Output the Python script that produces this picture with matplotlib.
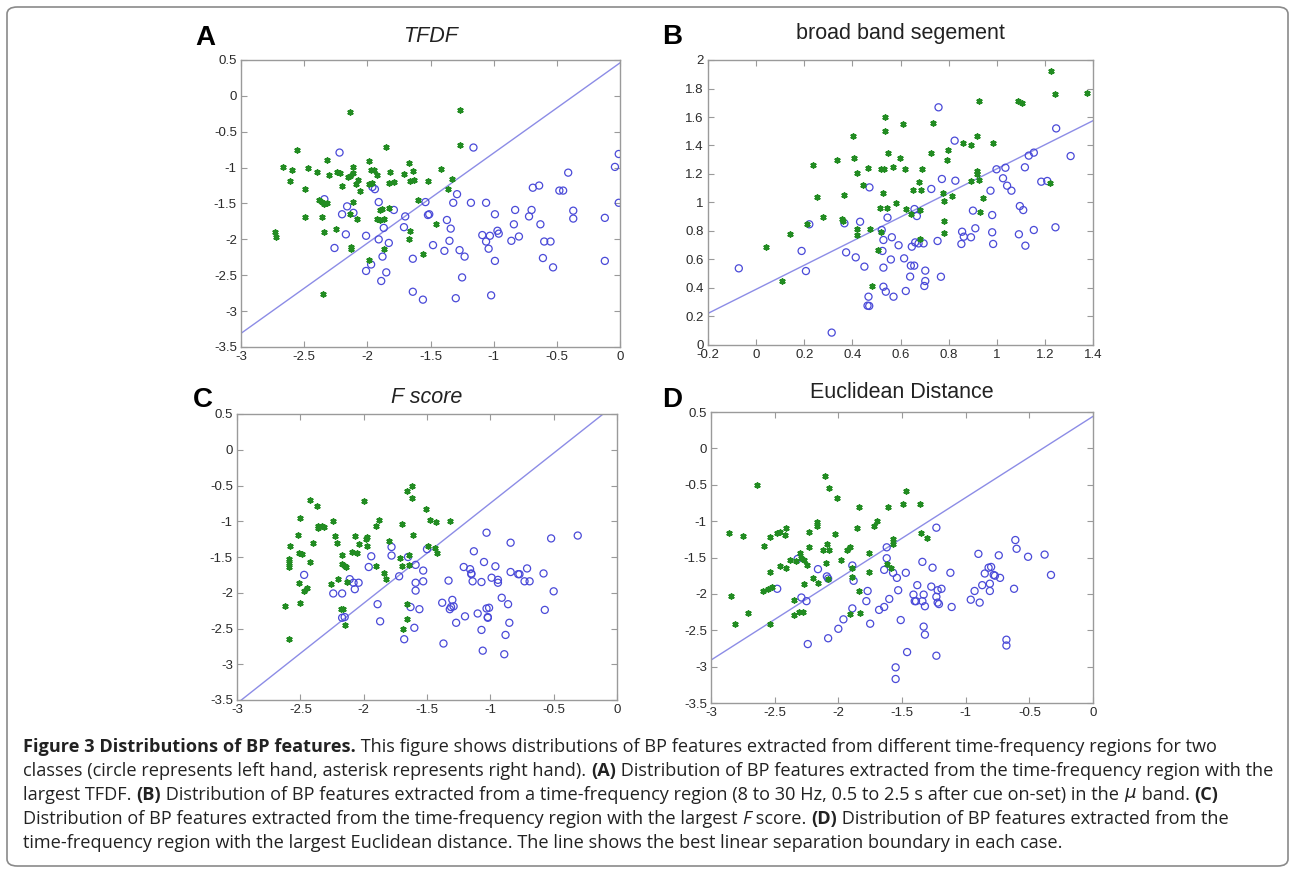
import matplotlib
matplotlib.use("Agg")
import matplotlib.pyplot as plt
from matplotlib.patches import FancyBboxPatch

W, H = 1292, 873

# ---------------- data ----------------
# Panel A (TFDF)
a_right_x = [-2.14, -1.27, -2.56, -1.27, -1.85, -2.67, -2.60, -2.47, -2.40, -2.32, -2.30, -2.24, -2.22, -2.11,
             -2.15, -2.14, -2.11, -2.07, -2.09, -2.06, -2.20, -2.61, -2.49, -1.99, -1.97, -1.95, -1.92, -1.96,
             -1.99, -1.82, -1.83, -1.79, -1.71, -1.67, -1.64, -1.66, -1.63, -1.42, -1.52, -1.33, -1.36, -2.38,
             -2.36, -2.34, -2.32, -2.11, -2.14, -2.08, -2.49, -2.36, -1.90, -1.88, -1.83, -1.92, -1.90, -1.87,
             -2.34, -2.25, -2.73, -2.72, -2.13, -2.13, -1.87, -1.60, -1.66, -1.67, -1.46, -1.56, -1.99, -2.35]
a_right_y = [-0.23, -0.19, -0.76, -0.69, -0.71, -0.99, -1.03, -1.01, -1.06, -0.90, -1.10, -1.06, -1.08, -0.99,
             -1.13, -1.11, -1.08, -1.17, -1.23, -1.33, -1.25, -1.18, -1.30, -0.91, -1.04, -1.03, -1.10, -1.22,
             -1.23, -1.06, -1.21, -1.20, -1.09, -0.93, -1.05, -1.19, -1.17, -1.02, -1.18, -1.16, -1.30, -1.45,
             -1.48, -1.51, -1.49, -1.48, -1.64, -1.71, -1.69, -1.69, -1.59, -1.58, -1.56, -1.72, -1.73, -1.71,
             -1.90, -1.86, -1.90, -1.97, -2.10, -2.13, -2.14, -1.45, -1.88, -1.99, -1.78, -2.21, -2.29, -2.76]
a_left_x = [-2.22, -1.16, -1.94, -1.96, -2.34, -1.91, -2.16, -2.20, -2.11, -1.79, -2.17, -2.01, -1.87, -1.91,
            -1.83, -2.26, -1.88, -2.01, -1.97, -1.85, -1.89, -1.70, -1.71, -1.54, -1.52, -1.51, -1.64, -1.64,
            -1.56, -1.48, -1.29, -1.32, -1.37, -1.34, -1.35, -1.39, -1.27, -1.23, -1.25, -1.30, -1.18, -1.06,
            -0.99, -1.09, -1.06, -1.03, -1.04, -0.97, -0.96, -0.99, -1.02, -0.84, -0.83, -0.80, -0.86, -0.72,
            -0.70, -0.69, -0.64, -0.63, -0.60, -0.55, -0.61, -0.53, -0.48, -0.45, -0.41, -0.37, -0.37, -0.12,
            -0.12, -0.04, -0.01, -0.01]
a_left_y = [-0.79, -0.72, -1.30, -1.27, -1.44, -1.48, -1.54, -1.65, -1.63, -1.59, -1.93, -1.95, -1.84, -2.00,
            -2.05, -2.12, -2.24, -2.44, -2.35, -2.46, -2.58, -1.68, -1.83, -1.48, -1.66, -1.65, -2.27, -2.73,
            -2.84, -2.08, -1.37, -1.49, -1.73, -1.85, -2.02, -2.16, -2.15, -2.24, -2.53, -2.82, -1.49, -1.49,
            -1.65, -1.94, -2.03, -1.95, -2.13, -1.88, -1.92, -2.30, -2.78, -1.79, -1.59, -1.96, -2.02, -1.68,
            -1.59, -1.28, -1.25, -1.79, -2.03, -2.03, -2.26, -2.39, -1.32, -1.32, -1.07, -1.60, -1.71, -1.70,
            -2.30, -0.99, -0.81, -1.49]
a_line_x = [-3.0, 0.0]
a_line_y = [-3.31, 0.46]

# Panel B (broad band segement)
b_right_x = [1.226, 1.24, 1.374, 0.925, 1.09, 1.105, 0.536, 0.612, 0.737, 0.404, 0.536, 0.918, 0.983, 0.858,
             0.893, 0.797, 0.546, 0.407, 0.596, 0.728, 0.793, 0.335, 0.235, 0.467, 0.518, 0.532, 0.568, 0.62,
             0.689, 0.421, 0.918, 0.918, 0.928, 0.893, 0.446, 0.675, 0.65, 0.686, 0.776, 0.779, 0.814, 0.251,
             0.365, 0.526, 0.582, 0.513, 0.543, 0.624, 0.679, 0.644, 0.943, 1.221, 0.929, 0.276, 0.356, 0.36,
             0.21, 0.418, 0.421, 0.474, 0.518, 0.779, 0.782, 0.682, 0.14, 0.043, 0.508, 0.481, 0.108]
b_right_y = [1.925, 1.76, 1.766, 1.71, 1.71, 1.70, 1.60, 1.55, 1.56, 1.47, 1.50, 1.47, 1.42, 1.415,
             1.40, 1.37, 1.35, 1.31, 1.31, 1.345, 1.30, 1.30, 1.26, 1.245, 1.235, 1.235, 1.25, 1.235,
             1.235, 1.205, 1.22, 1.20, 1.16, 1.15, 1.12, 1.146, 1.09, 1.088, 1.07, 1.01, 1.048, 1.036,
             1.05, 1.064, 0.999, 0.963, 0.963, 0.952, 0.947, 0.919, 1.034, 1.14, 0.931, 0.896, 0.884, 0.870,
             0.847, 0.814, 0.772, 0.814, 0.791, 0.87, 0.784, 0.744, 0.779, 0.685, 0.667, 0.416, 0.449]
b_left_x = [-0.072, 0.189, 0.207, 0.221, 0.314, 0.367, 0.374, 0.414, 0.432, 0.45, 0.467, 0.463, 0.47, 0.471,
            0.522, 0.529, 0.525, 0.529, 0.529, 0.539, 0.546, 0.564, 0.56, 0.571, 0.592, 0.615, 0.622, 0.64,
            0.643, 0.657, 0.647, 0.661, 0.668, 0.658, 0.675, 0.696, 0.703, 0.703, 0.699, 0.728, 0.754, 0.758,
            0.768, 0.772, 0.825, 0.828, 0.856, 0.863, 0.853, 0.893, 0.901, 0.911, 0.974, 0.981, 0.981, 0.985,
            0.999, 1.026, 1.036, 1.043, 1.061, 1.096, 1.11, 1.092, 1.119, 1.117, 1.133, 1.154, 1.154, 1.185,
            1.21, 1.247, 1.244, 1.307]
b_left_y = [0.538, 0.66, 0.519, 0.847, 0.087, 0.854, 0.65, 0.615, 0.865, 0.55, 0.339, 0.276, 0.274, 1.106,
            0.807, 0.737, 0.66, 0.543, 0.409, 0.374, 0.894, 0.756, 0.60, 0.339, 0.70, 0.608, 0.379, 0.48,
            0.557, 0.557, 0.69, 0.72, 0.905, 0.954, 0.713, 0.713, 0.522, 0.449, 0.414, 1.095, 0.73, 1.668,
            0.479, 1.165, 1.434, 1.153, 0.795, 0.76, 0.709, 0.756, 0.943, 0.819, 1.083, 0.912, 0.791, 0.709,
            1.233, 1.17, 1.244, 1.118, 1.083, 0.975, 0.947, 0.777, 0.697, 1.247, 1.329, 1.35, 0.807, 1.146,
            1.151, 1.52, 0.826, 1.326]
b_line_x = [-0.2, 1.4]
b_line_y = [0.222, 1.574]

# Panel C (F score)
c_right_x = [-2.42, -2.37, -2.00, -1.62, -1.66, -1.62, -1.51, -2.50, -2.36, -2.36, -2.33, -2.31, -2.24, -1.88,
             -1.90, -1.70, -1.48, -1.43, -1.32, -2.52, -2.40, -2.23, -2.21, -2.07, -2.04, -1.97, -1.98, -1.97,
             -1.80, -1.61, -1.49, -1.44, -1.42, -2.58, -2.59, -2.59, -2.59, -2.51, -2.49, -2.42, -2.17, -2.09,
             -2.05, -2.17, -2.15, -2.14, -1.90, -1.71, -1.70, -1.64, -1.64, -1.84, -1.82, -2.20, -2.13, -2.26,
             -2.51, -2.45, -2.47, -2.62, -2.50, -2.18, -2.16, -2.15, -1.66, -1.66, -1.69, -2.59]
c_right_y = [-0.70, -0.79, -0.71, -0.50, -0.57, -0.68, -0.83, -0.96, -1.06, -1.10, -1.07, -1.08, -0.99, -0.98,
             -1.07, -1.04, -0.98, -1.01, -0.99, -1.19, -1.31, -1.20, -1.30, -1.21, -1.32, -1.22, -1.25, -1.34,
             -1.28, -1.19, -1.34, -1.38, -1.44, -1.35, -1.53, -1.59, -1.64, -1.44, -1.46, -1.57, -1.47, -1.43,
             -1.45, -1.60, -1.62, -1.64, -1.62, -1.52, -1.62, -1.47, -1.61, -1.72, -1.81, -1.81, -1.85, -1.88,
             -1.86, -1.94, -1.98, -2.18, -2.15, -2.23, -2.23, -2.45, -2.16, -2.37, -2.51, -2.64]
c_left_x = [-2.47, -2.24, -2.17, -2.17, -2.15, -2.11, -2.08, -2.07, -2.04, -1.94, -1.96, -1.89, -1.87, -1.78,
            -1.78, -1.72, -1.65, -1.59, -1.59, -1.59, -1.53, -1.53, -1.50, -1.63, -1.56, -1.60, -1.68, -1.37,
            -1.38, -1.33, -1.32, -1.31, -1.30, -1.29, -1.27, -1.20, -1.21, -1.16, -1.15, -1.15, -1.14, -1.13,
            -1.10, -1.07, -1.07, -1.06, -1.05, -1.03, -1.03, -1.02, -1.02, -1.01, -0.99, -0.96, -0.94, -0.94,
            -0.91, -0.88, -0.89, -0.86, -0.85, -0.84, -0.84, -0.78, -0.77, -0.73, -0.71, -0.69, -0.58, -0.57,
            -0.52, -0.50, -0.31]
c_left_y = [-1.75, -2.01, -2.01, -2.35, -2.34, -1.81, -1.86, -1.95, -1.86, -1.49, -1.64, -2.16, -2.40, -1.36,
            -1.48, -1.77, -1.50, -1.61, -1.86, -1.97, -1.69, -1.84, -1.39, -2.20, -2.23, -2.49, -2.65, -2.71,
            -2.14, -1.83, -2.23, -2.20, -2.10, -2.19, -2.42, -2.33, -1.64, -1.67, -1.73, -1.74, -1.84, -1.42,
            -2.29, -1.85, -2.52, -2.81, -1.57, -1.16, -2.22, -2.34, -2.35, -2.21, -1.79, -1.63, -1.82, -1.86,
            -2.07, -2.59, -2.86, -2.16, -2.42, -1.71, -1.30, -1.74, -1.74, -1.84, -1.66, -1.84, -1.73, -2.24,
            -1.24, -1.98, -1.20]
c_line_x = [-3.0, 0.0]
c_line_y = [-3.548, 0.653]

# Panel D (Euclidean Distance)
d_right_x = [-2.104, -2.07, -2.01, -2.64, -1.47, -1.49, -1.61, -1.36, -1.84, -1.70, -1.72, -2.17, -2.17, -1.85,
             -2.86, -2.75, -2.54, -2.48, -2.46, -2.41, -2.42, -2.23, -2.03, -2.58, -2.23, -2.09, -2.12, -2.07,
             -1.93, -1.91, -1.57, -1.57, -1.35, -1.30, -2.30, -2.29, -2.33, -2.38, -2.27, -2.25, -2.10, -1.98,
             -1.76, -2.46, -2.41, -2.54, -1.89, -1.62, -1.59, -1.76, -2.20, -2.08, -1.89, -2.52, -2.55, -2.59,
             -2.27, -2.16, -1.84, -2.84, -2.35, -2.71, -2.31, -2.28, -2.35, -1.83, -1.91, -2.81, -2.54]
d_right_y = [-0.38, -0.54, -0.68, -0.51, -0.59, -0.77, -0.80, -0.77, -0.81, -1.00, -1.07, -1.01, -1.07, -1.10,
             -1.16, -1.21, -1.22, -1.16, -1.15, -1.10, -1.19, -1.15, -1.18, -1.34, -1.36, -1.32, -1.40, -1.40,
             -1.40, -1.36, -1.25, -1.31, -1.16, -1.23, -1.44, -1.50, -1.55, -1.54, -1.54, -1.60, -1.58, -1.54,
             -1.44, -1.61, -1.64, -1.70, -1.64, -1.59, -1.65, -1.70, -1.78, -1.80, -1.77, -1.90, -1.93, -1.96,
             -1.87, -1.85, -1.96, -2.03, -2.08, -2.26, -2.25, -2.25, -2.29, -2.26, -2.28, -2.42, -2.42]
d_left_x = [-2.32, -2.48, -2.29, -2.25, -2.24, -2.16, -2.09, -2.08, -2.08, -2.00, -1.96, -1.89, -1.88, -1.89,
            -1.77, -1.78, -1.75, -1.68, -1.64, -1.62, -1.62, -1.64, -1.60, -1.57, -1.54, -1.53, -1.51, -1.55,
            -1.55, -1.47, -1.46, -1.41, -1.40, -1.39, -1.38, -1.34, -1.34, -1.33, -1.32, -1.33, -1.32, -1.27,
            -1.26, -1.23, -1.23, -1.22, -1.22, -1.21, -1.19, -1.23, -1.12, -1.11, -0.96, -0.93, -0.90, -0.89,
            -0.87, -0.85, -0.82, -0.80, -0.81, -0.81, -0.78, -0.77, -0.73, -0.74, -0.68, -0.68, -0.62, -0.61,
            -0.60, -0.51, -0.38, -0.33]
d_left_y = [-1.52, -1.93, -2.05, -2.10, -2.69, -1.66, -1.76, -1.79, -2.61, -2.48, -2.35, -1.61, -1.82, -2.20,
            -1.96, -2.10, -2.41, -2.22, -2.18, -1.36, -1.51, -1.67, -2.07, -1.71, -1.78, -1.95, -2.36, -3.01,
            -3.17, -1.71, -2.80, -2.01, -2.10, -2.10, -1.88, -1.56, -2.10, -2.45, -2.56, -2.01, -2.17, -1.90,
            -1.64, -1.09, -2.04, -1.95, -2.12, -2.14, -1.93, -2.85, -1.71, -2.18, -2.08, -1.96, -1.45, -2.12,
            -1.88, -1.72, -1.64, -1.63, -1.86, -1.96, -1.74, -1.75, -1.78, -1.47, -2.63, -2.71, -1.93, -1.26,
            -1.38, -1.49, -1.46, -1.74]
d_line_x = [-3.0, 0.0]
d_line_y = [-2.91, 0.44]

panel_letters = ["A", "B", "C", "D"]
panel_titles = ["TFDF", "broad band segement", "F score", "Euclidean Distance"]
title_italic = [True, False, True, False]
xlims = [(-3, 0), (-0.2, 1.4), (-3, 0), (-3, 0)]
ylims = [(-3.5, 0.5), (0, 2), (-3.5, 0.5), (-3.5, 0.5)]
xticks = [[-3, -2.5, -2, -1.5, -1, -0.5, 0],
          [-0.2, 0, 0.2, 0.4, 0.6, 0.8, 1, 1.2, 1.4],
          [-3, -2.5, -2, -1.5, -1, -0.5, 0],
          [-3, -2.5, -2, -1.5, -1, -0.5, 0]]
yticks = [[-3.5, -3, -2.5, -2, -1.5, -1, -0.5, 0, 0.5],
          [0, 0.2, 0.4, 0.6, 0.8, 1, 1.2, 1.4, 1.6, 1.8, 2],
          [-3.5, -3, -2.5, -2, -1.5, -1, -0.5, 0, 0.5],
          [-3.5, -3, -2.5, -2, -1.5, -1, -0.5, 0, 0.5]]

panels = [
    (a_right_x, a_right_y, a_left_x, a_left_y, a_line_x, a_line_y),
    (b_right_x, b_right_y, b_left_x, b_left_y, b_line_x, b_line_y),
    (c_right_x, c_right_y, c_left_x, c_left_y, c_line_x, c_line_y),
    (d_right_x, d_right_y, d_left_x, d_left_y, d_line_x, d_line_y),
]

# ---------------- layout (pixels) ----------------
axes_px = [(241, 60, 620, 347), (708, 60, 1093, 345), (237, 414, 617, 700), (711, 412, 1093, 703)]
letter_px = [(195, 38), (662, 37), (193, 400), (662, 400)]
title_py = [37, 34, 398, 393]

GREEN = "#228c22"
BLUE = "#4a4ad8"
LINE = "#8c8ce6"
SPINE = "#9a9a9a"
TICKTXT = "#2a2a2a"
PFONT = ["Liberation Sans", "DejaVu Sans"]

fig = plt.figure(figsize=(W / 100, H / 100), dpi=100)
fig.patch.set_facecolor("white")

def fx(px):
    return px / W

def fy(py):
    return 1 - py / H

for i, (rx, ry, lx, ly, lnx, lny) in enumerate(panels):
    l, t, r, b = axes_px[i]
    ax = fig.add_axes([fx(l), fy(b), (r - l) / W, (b - t) / H])
    ax.plot(lnx, lny, color=LINE, lw=1.0, zorder=1)
    ax.scatter(lx, ly, s=26, facecolors="none", edgecolors=BLUE, linewidths=0.9, zorder=2)
    ax.scatter(rx, ry, s=12, marker=(6, 2, 0), color=GREEN, linewidths=1.3, zorder=3)
    ax.set_xlim(*xlims[i])
    ax.set_ylim(*ylims[i])
    ax.set_xticks(xticks[i])
    ax.set_yticks(yticks[i])
    ax.set_xticklabels([("%g" % v) for v in xticks[i]])
    ax.set_yticklabels([("%g" % v) for v in yticks[i]])
    ax.tick_params(direction="in", length=4, width=0.8, color=SPINE, top=True, right=True,
                   labelsize=9.5, labelcolor=TICKTXT, pad=3)
    for lab in ax.get_xticklabels() + ax.get_yticklabels():
        lab.set_family(PFONT)
    for sp in ax.spines.values():
        sp.set_color(SPINE)
        sp.set_linewidth(1.0)
    cx = (l + r) / 2
    fig.text(fx(cx), fy(title_py[i]), panel_titles[i], ha="center", va="center",
             fontsize=15.5, family=PFONT, style="italic" if title_italic[i] else "normal", color="#222222")
    lx0, ly0 = letter_px[i]
    fig.text(fx(lx0), fy(ly0), panel_letters[i], ha="left", va="center",
             fontsize=20, fontweight="bold", family=PFONT, color="black")

# frame around the figure
frame = FancyBboxPatch((fx(7), fy(866)), (1288 - 7) / W, (866 - 7) / H,
                       boxstyle="round,pad=0,rounding_size=0.008", transform=fig.transFigure,
                       facecolor="none", edgecolor="#8a8a8a", linewidth=1.2)
fig.patches.append(frame)

# ---------------- caption ----------------
CAP_FONT = ["Open Sans", "DejaVu Sans"]
B = {"fontweight": "bold"}
N = {}
I = {"style": "italic"}
caption_lines = [
    [("Figure 3 Distributions of BP features.", B),
     (" This figure shows distributions of BP features extracted from different time-frequency regions for two", N)],
    [("classes (circle represents left hand, asterisk represents right hand). ", N), ("(A)", B),
     (" Distribution of BP features extracted from the time-frequency region with the", N)],
    [("largest TFDF. ", N), ("(B)", B),
     (" Distribution of BP features extracted from a time-frequency region (8 to 30 Hz, 0.5 to 2.5 s after cue on-set) in the ", N),
     (r"$\mu$", N), (" band. ", N), ("(C)", B)],
    [("Distribution of BP features extracted from the time-frequency region with the largest ", N), ("F", I),
     (" score. ", N), ("(D)", B), (" Distribution of BP features extracted from the", N)],
    [("time-frequency region with the largest Euclidean distance. The line shows the best linear separation boundary in each case.", N)],
]
cap_y = [747, 771, 795, 819, 843]
cap_x0 = 23
target_w = 1218 - 23

renderer = fig.canvas.get_renderer()

def draw_caption_line(segs, x0, y, size):
    x = x0
    made = []
    for txt, kw in segs:
        t = fig.text(fx(x), fy(y), txt, fontsize=size, family=CAP_FONT, ha="left", va="center",
                     color="#222222", **kw)
        bb = t.get_window_extent(renderer=renderer)
        x += bb.width
        made.append(t)
    return made, x - x0

base = 11.0
made, w = draw_caption_line(caption_lines[0], cap_x0, cap_y[0], base)
for m in made:
    m.remove()
size = base * target_w / w
for segs, yy in zip(caption_lines, cap_y):
    draw_caption_line(segs, cap_x0, yy, size)

fig.savefig("out.png", dpi=100, facecolor="white")
